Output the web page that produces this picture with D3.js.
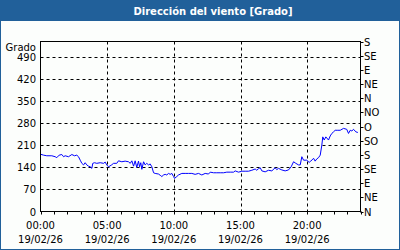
<!DOCTYPE html>
<html>
<head>
<meta charset="utf-8">
<script src="https://cdn.jsdelivr.net/npm/d3@7"></script>
<style>
  body { margin: 0; background: #fcfefc; }
  svg { display: block; font-family: "DejaVu Sans", sans-serif; }
</style>
</head>
<body>
<div id="chart"></div>
<script>
// wind direction readings (hours since 00:00, degrees)
const hours = [0, 0.23, 0.47, 0.85, 1.1, 1.22, 1.4, 1.6, 1.73, 1.85, 2.1, 2.35, 2.55, 2.72, 2.85, 2.98,
  3.1, 3.23, 3.35, 3.47, 3.6, 3.73, 3.85, 3.92, 4.05, 4.22, 4.48, 4.73, 4.85, 4.97, 5.1, 5.3, 5.48,
  5.72, 5.85, 6.1, 6.35, 6.6, 6.73, 6.85, 6.98, 7.1, 7.22, 7.35, 7.43, 7.52, 7.6, 7.73, 7.85, 7.97,
  8.1, 8.23, 8.35, 8.48, 8.6, 8.85, 8.98, 9.1, 9.23, 9.35, 9.47, 9.6, 9.73, 9.85, 9.98, 10.05, 10.22,
  10.35, 10.6, 10.85, 11.1, 11.35, 11.6, 11.85, 12.1, 12.35, 12.6, 12.73, 12.98, 13.22, 13.48, 13.73,
  13.97, 14.23, 14.48, 14.6, 14.85, 15.1, 15.35, 15.6, 15.85, 16.1, 16.22, 16.35, 16.48, 16.6, 16.85,
  17.1, 17.35, 17.6, 17.72, 17.85, 18.1, 18.35, 18.6, 18.8, 18.98, 19.15, 19.35, 19.48, 19.6, 19.73,
  19.97, 20.15, 20.27, 20.48, 20.6, 20.72, 20.85, 20.98, 21.1, 21.17, 21.28, 21.4, 21.6, 21.73, 21.85,
  21.98, 22.1, 22.3, 22.48, 22.73, 22.97, 23.1, 23.23, 23.35, 23.48, 23.65, 23.8];
const degrees = [182, 179, 177, 177, 174, 171, 179, 181, 174, 177, 174, 181, 177, 179, 174, 163,
  153, 148, 155, 148, 144, 142, 137, 153, 155, 153, 155, 153, 157, 148, 142, 147, 153,
  153, 161, 158, 160, 158, 153, 161, 144, 161, 140, 160, 142, 155, 134, 158, 148, 153,
  148, 151, 142, 123, 121, 119, 115, 111, 116, 118, 116, 121, 118, 121, 111, 105, 111,
  116, 121, 121, 121, 121, 118, 121, 116, 121, 119, 125, 123, 123, 123, 123,
  125, 125, 125, 129, 125, 128, 128, 128, 131, 135, 131, 136, 139, 129, 126,
  131, 129, 139, 133, 137, 132, 129, 132, 142, 158, 153, 148, 148, 174, 163,
  163, 156, 160, 169, 160, 167, 171, 179, 211, 237, 227, 237, 227, 240, 248,
  253, 258, 258, 258, 264, 261, 248, 258, 256, 261, 253, 251];

const leftTicks = [0, 70, 140, 210, 280, 350, 420, 490];
const compass = ["N", "NE", "E", "SE", "S", "SO", "O", "NO", "N", "NE", "E", "SE", "S"];
const timeTicks = [0, 5, 10, 15, 20];
const timeLabels = ["00:00", "05:00", "10:00", "15:00", "20:00"];
const dateLabel = "19/02/26";
const title = "Dirección del viento [Grado]";

const W = 400, H = 250;
const plotL = 40.5, plotR = 360.5, plotT = 41.5, plotB = 211.5;

const svg = d3.select("#chart").append("svg")
    .attr("width", W)
    .attr("height", H);

// frame and title band
svg.append("rect")
    .attr("x", 0.5).attr("y", 0.5)
    .attr("width", W - 1).attr("height", H - 1)
    .attr("fill", "#fcfefc")
    .attr("stroke", "#21609a");
svg.append("rect")
    .attr("x", 0).attr("y", 0)
    .attr("width", W).attr("height", 21)
    .attr("fill", "#21609a");
svg.append("text")
    .attr("x", 213)
    .attr("y", 15)
    .attr("text-anchor", "middle")
    .attr("fill", "#ffffff")
    .attr("font-weight", "bold")
    .style("font-size", "10px")
    .text(title);

let x = d3.scaleLinear().domain([0, 24]).range([plotL, plotR]);
let y = d3.scaleLinear().domain([0, 540]).range([plotB, plotT]);
let yDir = d3.scalePoint().domain(d3.range(compass.length)).range([plotB, plotT]);

// dashed grid
svg.append("g")
    .selectAll("line")
    .data(leftTicks.filter(d => d > 0))
    .enter().append("line")
    .attr("x1", plotL).attr("x2", plotR)
    .attr("y1", d => Math.round(y(d)) + 0.5).attr("y2", d => Math.round(y(d)) + 0.5)
    .attr("stroke", "#000")
    .attr("stroke-dasharray", "3,3");
svg.append("g")
    .selectAll("line")
    .data(timeTicks.filter(d => d > 0))
    .enter().append("line")
    .attr("x1", d => Math.round(x(d)) + 0.5).attr("x2", d => Math.round(x(d)) + 0.5)
    .attr("y1", plotT).attr("y2", plotB)
    .attr("stroke", "#000")
    .attr("stroke-dasharray", "3,3");

// data line
let dataline = d3.line()
    .x(function(d, i) { return x(hours[i]) })
    .y(function(d) { return y(d) });
svg.append("path")
    .datum(degrees)
    .attr("fill", "none")
    .attr("stroke", "#0000ff")
    .attr("stroke-width", 1)
    .attr("d", dataline);

// plot border
svg.append("rect")
    .attr("x", plotL).attr("y", plotT)
    .attr("width", plotR - plotL).attr("height", plotB - plotT)
    .attr("fill", "none")
    .attr("stroke", "#000");

// bottom hourly ticks
svg.append("g")
    .selectAll("line")
    .data(d3.range(0, 25))
    .enter().append("line")
    .attr("x1", d => Math.round(x(d)) + 0.5).attr("x2", d => Math.round(x(d)) + 0.5)
    .attr("y1", plotB).attr("y2", plotB + 3)
    .attr("stroke", "#000");

// right compass ticks
svg.append("g")
    .selectAll("line")
    .data(d3.range(compass.length))
    .enter().append("line")
    .attr("x1", plotR).attr("x2", plotR + 3)
    .attr("y1", d => Math.round(yDir(d)) + 0.5).attr("y2", d => Math.round(yDir(d)) + 0.5)
    .attr("stroke", "#000");

const labels = svg.append("g")
    .style("font-size", "10px")
    .attr("fill", "#000");

// left labels
labels.selectAll(".yl")
    .data(leftTicks)
    .enter().append("text")
    .attr("x", 36)
    .attr("y", d => y(d) + 4)
    .attr("text-anchor", "end")
    .text(d => d);
labels.append("text")
    .attr("x", 36)
    .attr("y", y(540) + 9)
    .attr("text-anchor", "end")
    .text("Grado");

// right labels
labels.selectAll(".rl")
    .data(compass)
    .enter().append("text")
    .attr("x", 364)
    .attr("y", (d, i) => yDir(i) + 4)
    .text(d => d);

// time labels
timeTicks.forEach(function(t, i) {
    labels.append("text")
        .attr("x", x(t))
        .attr("y", 229)
        .attr("text-anchor", "middle")
        .text(timeLabels[i]);
    labels.append("text")
        .attr("x", x(t))
        .attr("y", 243)
        .attr("text-anchor", "middle")
        .text(dateLabel);
});
</script>
</body>
</html>
